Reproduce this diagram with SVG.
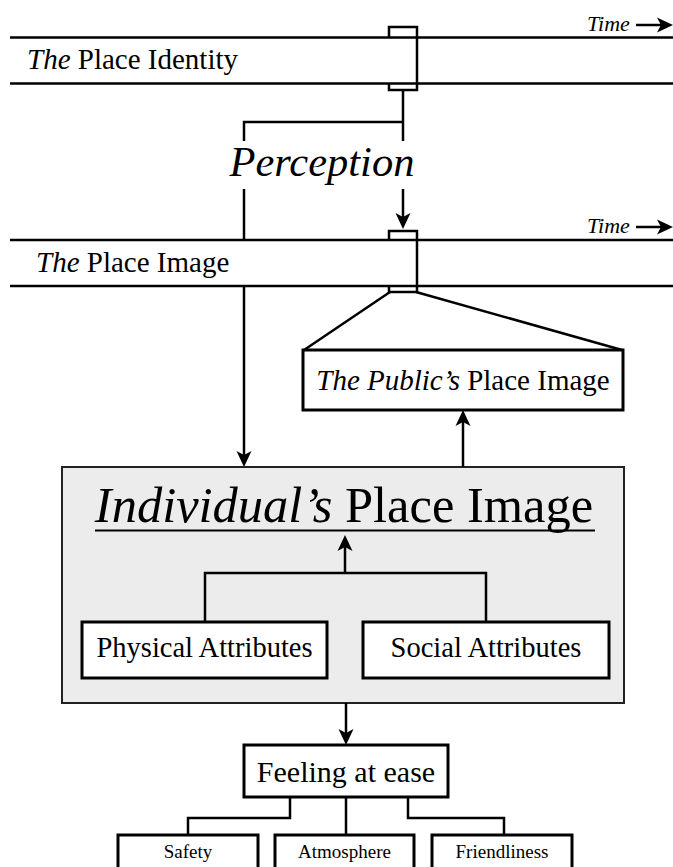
<svg xmlns="http://www.w3.org/2000/svg" width="673" height="867" viewBox="0 0 673 867">
<style>
text{font-family:"Liberation Serif","Times New Roman",serif;fill:#000}
.it{font-style:italic}
.ln{stroke:#000;stroke-width:2.5;fill:none}
.box{stroke:#000;stroke-width:3;fill:#fff}
.arr{stroke:#000;stroke-width:2.5;fill:none;marker-end:url(#ah)}
</style>
<defs>
<marker id="ah" markerUnits="userSpaceOnUse" markerWidth="18" markerHeight="18" refX="8" refY="8" orient="auto">
<path d="M0,0.5 L16,8 L0,15.5 L4,8 z" fill="#000"/>
</marker>
</defs>
<rect width="673" height="867" fill="#fff"/>

<g id="band-identity">
<line class="ln" x1="10" y1="37.5" x2="673" y2="37.5"/>
<line class="ln" x1="10" y1="83.5" x2="673" y2="83.5"/>
<path class="ln" d="M389,37 V27 H417 V90 H389 V83"/>
<text x="27" y="69" font-size="29"><tspan class="it">The</tspan> Place Identity</text>
<text x="587" y="31" font-size="22" class="it">Time</text>
<line class="arr" x1="636" y1="25" x2="665" y2="25"/>
</g>

<g id="band-image">
<line class="ln" x1="10" y1="240" x2="673" y2="240"/>
<line class="ln" x1="10" y1="286" x2="673" y2="286"/>
<path class="ln" d="M389,240 V231 H417 V292 H389 V286"/>
<text x="36" y="272" font-size="29"><tspan class="it">The</tspan> Place Image</text>
<text x="587" y="233" font-size="22" class="it">Time</text>
<line class="arr" x1="636" y1="227" x2="665" y2="227"/>
</g>

<g id="perception">
<text x="322" y="176" font-size="42.5" class="it" text-anchor="middle">Perception</text>
</g>

<g id="public-image">
<path class="ln" d="M390,292 L304,350 M416,292 L622,350"/>
<rect class="box" x="303" y="350" width="320" height="60"/>
<text x="463" y="390" font-size="29" text-anchor="middle"><tspan class="it">The Public’s</tspan> Place Image</text>
</g>

<g id="individual-image">
<rect x="62" y="467" width="562" height="236" fill="#ececec" stroke="#222" stroke-width="2"/>
<text x="344" y="522" font-size="50.5" text-anchor="middle"><tspan class="it">Individual’s</tspan> Place Image</text>
<line x1="95" y1="530.5" x2="595" y2="530.5" stroke="#000" stroke-width="2"/>
</g>

<g id="physical">
<rect class="box" x="82" y="622" width="245" height="56"/>
<text x="204.5" y="657" font-size="28.5" text-anchor="middle">Physical Attributes</text>
</g>

<g id="social">
<rect class="box" x="363" y="622" width="246" height="56"/>
<text x="486" y="657" font-size="28.5" text-anchor="middle">Social Attributes</text>
</g>

<g id="feeling">
<rect class="box" x="244" y="745" width="204" height="52"/>
<text x="346" y="782" font-size="30" text-anchor="middle">Feeling at ease</text>
</g>

<g id="safety">
<rect class="box" x="118" y="835" width="140" height="50"/>
<text x="188" y="858" font-size="19" text-anchor="middle">Safety</text>
</g>
<g id="atmosphere">
<rect class="box" x="275" y="835" width="139" height="50"/>
<text x="344.5" y="858" font-size="19" text-anchor="middle">Atmosphere</text>
</g>
<g id="friendliness">
<rect class="box" x="432" y="835" width="140" height="50"/>
<text x="502" y="858" font-size="19" text-anchor="middle">Friendliness</text>
</g>

<g id="connectors">
<path class="ln" d="M403,90 V141 M403,122 H244 V141"/>
<line class="arr" x1="403" y1="189" x2="403" y2="221"/>
<line class="ln" x1="244" y1="189" x2="244" y2="240"/>
<line class="arr" x1="244" y1="286" x2="244" y2="459"/>
<line class="arr" x1="463" y1="467" x2="463" y2="418"/>
<path class="ln" d="M205,622 V573 H486 V622"/>
<line class="arr" x1="345" y1="573" x2="345" y2="543"/>
<line class="arr" x1="346" y1="703" x2="346" y2="737"/>
<path class="ln" d="M290,797 V818 H188 V835 M346,797 V835 M408,797 V818 H504 V835"/>
</g>
</svg>
